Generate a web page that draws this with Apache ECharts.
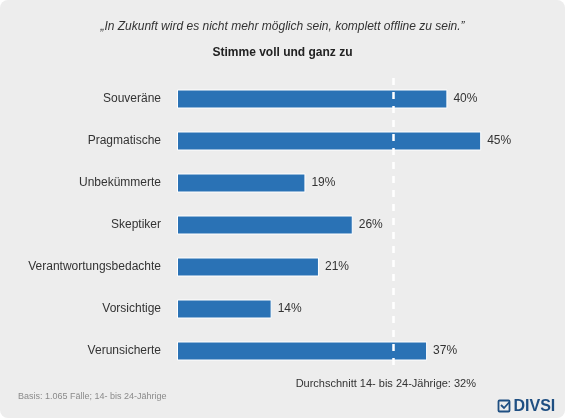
<!DOCTYPE html>
<html lang="de">
<head>
    <meta charset="UTF-8"/>
    <title>DIVSI</title>
    <script src="https://cdn.jsdelivr.net/npm/echarts@6/dist/echarts.min.js"></script>
    <style>
        html, body { margin: 0; padding: 0; background: #fff; }
        #main { width: 565px; height: 418px; background: #ededed; border-radius: 8px; }
    </style>
</head>
<body>
<div id="main"></div>

<script type="text/javascript">
    // Daten
    var categories = ['Souveräne', 'Pragmatische', 'Unbekümmerte', 'Skeptiker', 'Verantwortungsbedachte', 'Vorsichtige', 'Verunsicherte'];
    var values = [40, 45, 19, 26, 21, 14, 37];
    var average = 32;
    var avgLabel = 'Durchschnitt 14- bis 24-Jährige: ' + average + '%';

    var myChart = echarts.init(document.getElementById('main'));
    var font = 'Liberation Sans, Arial, sans-serif';

    var option = {
        backgroundColor: 'transparent',
        title: [{
            text: '\u201EIn Zukunft wird es nicht mehr möglich sein, komplett offline zu sein.\u201D',
            left: 'center',
            top: 16,
            textStyle: { fontFamily: font, fontSize: 12, fontStyle: 'italic', fontWeight: 'normal', color: '#333' }
        }, {
            text: 'Stimme voll und ganz zu',
            left: 'center',
            top: 42,
            textStyle: { fontFamily: font, fontSize: 12, fontWeight: 'bold', color: '#222' }
        }],
        grid: { left: 177, right: 50, top: 78, bottom: 46 },
        xAxis: {
            type: 'value',
            min: 0,
            max: 50,
            show: false
        },
        yAxis: {
            type: 'category',
            data: categories,
            inverse: true,
            axisLine: { show: false },
            axisTick: { show: false },
            axisLabel: { margin: 16, fontFamily: font, fontSize: 12, color: '#333' }
        },
        series: [{
            type: 'bar',
            data: values,
            barWidth: 19,
            itemStyle: { color: '#2a72b5', borderColor: '#fff', borderWidth: 1 },
            label: {
                show: true,
                position: 'right',
                distance: 6,
                formatter: '{c}%',
                fontFamily: font,
                fontSize: 12,
                color: '#333'
            },
            markLine: {
                silent: true,
                symbol: 'none',
                z: 10,
                label: { show: false },
                lineStyle: { color: '#fff', width: 2.5, type: [7, 7] },
                data: [{ xAxis: average }]
            }
        }],
        graphic: [{
            type: 'text',
            right: 89,
            top: 378,
            style: { text: avgLabel, font: '11px ' + font, fill: '#333' }
        }, {
            type: 'text',
            left: 18,
            top: 392,
            style: { text: 'Basis: 1.065 Fälle; 14- bis 24-Jährige', font: '9px ' + font, fill: '#8a8a8a' }
        }, {
            type: 'group',
            left: 496,
            top: 398,
            children: [{
                type: 'rect',
                shape: { x: 0, y: 2, width: 11, height: 11, r: 1 },
                style: { fill: 'none', stroke: '#1f4f82', lineWidth: 1.8 }
            }, {
                type: 'polyline',
                shape: { points: [[2.5, 6.5], [5.5, 9.5], [11, 3.5]] },
                style: { fill: 'none', stroke: '#1f4f82', lineWidth: 1.8 }
            }, {
                type: 'text',
                x: 15,
                y: 0,
                style: { text: 'DIVSI', font: 'bold 16px ' + font, fill: '#1f4f82' }
            }]
        }]
    };

    myChart.setOption(option);
</script>
</body>
</html>
